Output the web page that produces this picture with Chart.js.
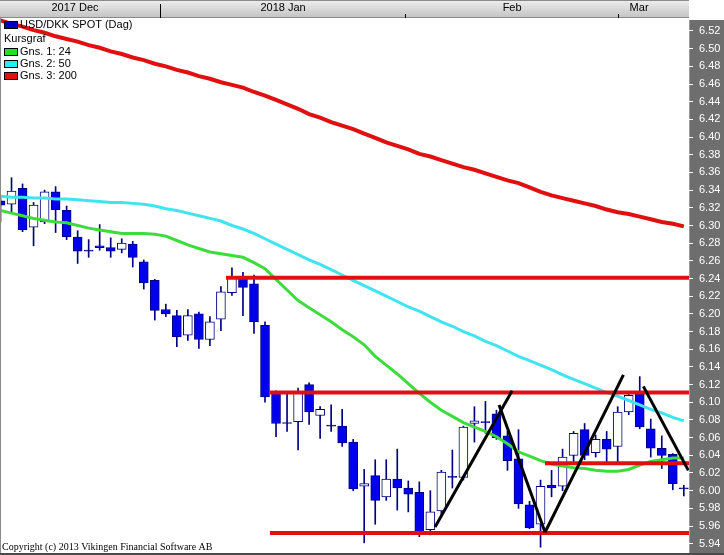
<!DOCTYPE html>
<html>
<head>
<meta charset="utf-8">
<script src="https://cdn.jsdelivr.net/npm/chart.js@4.4.1/dist/chart.umd.min.js"></script>
<style>
  html, body { margin: 0; padding: 0; background: #fff; }
  canvas { display: block; }
</style>
</head>
<body>
<canvas id="chart" width="724" height="555"></canvas>
<script>
// USD/DKK daily candles, Dec 2017 - Mar 2018 (one entry per trading day)
const opens  = [6.328, 6.324, 6.342, 6.298, 6.304, 6.338, 6.317, 6.287, 6.271, 6.277,
                6.275, 6.273, 6.279, 6.259, 6.238, 6.205, 6.198, 6.176, 6.200, 6.171,
                6.194, 6.224, 6.241, 6.234, 6.187, 6.110, 6.076, 6.078, 6.120, 6.085,
                6.073, 6.073, 6.055, 6.005, 6.017, 5.993, 6.013, 6.003, 5.998, 5.956,
                5.977, 6.015, 6.015, 6.076, 6.078, 6.087, 6.062, 6.036, 5.984, 5.962,
                6.006, 6.005, 6.040, 6.069, 6.043, 6.058, 6.050, 6.089, 6.110, 6.070,
                6.048, 6.041, 6.002];
const highs  = [6.332, 6.354, 6.347, 6.326, 6.340, 6.344, 6.322, 6.294, 6.284, 6.301,
                6.286, 6.285, 6.282, 6.261, 6.239, 6.211, 6.204, 6.205, 6.202, 6.197,
                6.231, 6.252, 6.247, 6.244, 6.191, 6.113, 6.111, 6.116, 6.122, 6.095,
                6.097, 6.092, 6.058, 6.024, 6.035, 6.035, 6.047, 6.011, 6.010, 6.000,
                6.023, 6.046, 6.073, 6.095, 6.101, 6.091, 6.067, 6.069, 5.988, 6.012,
                6.023, 6.047, 6.067, 6.076, 6.063, 6.067, 6.095, 6.112, 6.129, 6.081,
                6.062, 6.042, 6.006];
const lows   = [6.304, 6.314, 6.293, 6.277, 6.302, 6.292, 6.284, 6.257, 6.264, 6.272,
                6.264, 6.269, 6.253, 6.228, 6.193, 6.197, 6.163, 6.170, 6.161, 6.164,
                6.181, 6.221, 6.198, 6.178, 6.100, 6.061, 6.067, 6.046, 6.075, 6.059,
                6.067, 6.050, 6.000, 5.941, 5.962, 5.989, 5.978, 5.976, 5.948, 5.950,
                5.971, 6.003, 6.012, 6.055, 6.065, 6.058, 6.023, 5.980, 5.957, 5.936,
                5.993, 6.000, 6.033, 6.035, 6.038, 6.031, 6.031, 6.086, 6.070, 6.038,
                6.025, 6.001, 5.994];
const closes = [6.323, 6.339, 6.295, 6.323, 6.338, 6.318, 6.287, 6.271, 6.271, 6.275,
                6.271, 6.280, 6.264, 6.235, 6.204, 6.200, 6.174, 6.198, 6.171, 6.191,
                6.225, 6.241, 6.230, 6.191, 6.106, 6.076, 6.076, 6.112, 6.089, 6.092,
                6.073, 6.054, 6.002, 6.008, 5.989, 6.013, 6.003, 5.996, 5.952, 5.976,
                6.021, 6.015, 6.072, 6.079, 6.077, 6.060, 6.034, 5.985, 5.958, 6.005,
                6.003, 6.038, 6.065, 6.040, 6.058, 6.047, 6.089, 6.108, 6.072, 6.048,
                6.040, 6.008, 6.002];

// moving averages (Gns. 1: 24, Gns. 2: 50, Gns. 3: 200)
const ma24  = [6.317, 6.314, 6.311, 6.308, 6.306, 6.304, 6.303, 6.300, 6.297, 6.295,
               6.293, 6.291, 6.291, 6.291, 6.290, 6.288, 6.283, 6.278, 6.274, 6.270,
               6.268, 6.266, 6.264, 6.258, 6.251, 6.239, 6.227, 6.215, 6.207, 6.199,
               6.191, 6.182, 6.174, 6.165, 6.152, 6.142, 6.132, 6.121, 6.110, 6.100,
               6.091, 6.084, 6.077, 6.072, 6.067, 6.061, 6.053, 6.044, 6.039, 6.034,
               6.030, 6.028, 6.026, 6.025, 6.023, 6.022, 6.022, 6.024, 6.029, 6.033,
               6.035, 6.037, 6.037];
const ma50  = [6.333, 6.332, 6.332, 6.331, 6.331, 6.330, 6.330, 6.329, 6.328, 6.327,
               6.326, 6.326, 6.325, 6.324, 6.322, 6.319, 6.317, 6.314, 6.311, 6.308,
               6.305, 6.300, 6.296, 6.291, 6.285, 6.279, 6.273, 6.267, 6.261, 6.256,
               6.250, 6.244, 6.238, 6.232, 6.226, 6.220, 6.214, 6.208, 6.203, 6.197,
               6.191, 6.186, 6.180, 6.175, 6.169, 6.164, 6.158, 6.152, 6.147, 6.142,
               6.137, 6.131, 6.126, 6.121, 6.116, 6.111, 6.107, 6.102, 6.097, 6.092,
               6.088, 6.083, 6.079];
const ma200 = [6.532, 6.528, 6.525, 6.521, 6.518, 6.514, 6.511, 6.508, 6.504, 6.501,
               6.497, 6.494, 6.490, 6.487, 6.483, 6.480, 6.476, 6.473, 6.469, 6.466,
               6.462, 6.459, 6.456, 6.451, 6.447, 6.442, 6.437, 6.432, 6.426, 6.422,
               6.417, 6.413, 6.409, 6.404, 6.399, 6.394, 6.390, 6.386, 6.381, 6.378,
               6.374, 6.370, 6.366, 6.363, 6.359, 6.355, 6.351, 6.348, 6.343, 6.338,
               6.334, 6.331, 6.328, 6.325, 6.322, 6.318, 6.315, 6.313, 6.310, 6.307,
               6.304, 6.302, 6.299];

// drawn support / resistance levels (price, first day index)
const levels      = [6.241, 6.111, 6.031, 5.952];
const levelStarts = [20.46, 24.40, 49.40, 24.45];

// hand drawn trend lines (day index, price)
const trendX = [[39.43, 46.42], [45.24, 49.41], [49.41, 56.52], [58.33, 62.41]];
const trendY = [[5.959, 6.113], [6.097, 5.953], [5.953, 6.131], [6.118, 6.023]];

// month header
const monthLabels  = ['2017 Dec', '2018 Jan', 'Feb', 'Mar'];
const monthCenters = [6.76, 25.64, 46.42, 57.94];
const yearBreak    = 14.47;
const monthBreaks  = [36.71, 56.03];

const xMin = -0.045, xMax = 62.47;
const yMin = 5.9295, yMax = 6.5347;

const FONT = '"Liberation Sans", Arial, sans-serif';
const NAVY = '#000080';

const bodies = opens.map((o, i) => ({ x: i, y: [o, closes[i]] }));
const wicks = lows.map((l, i) => ({ x: i, y: [l, highs[i]] }));
const bodyColors = opens.map((o, i) => closes[i] > o ? '#ffffff' : (closes[i] < o ? '#0000ee' : NAVY));
const toPoints = arr => arr.map((v, i) => ({ x: i, y: v }));

const lineBase = { type: 'line', pointRadius: 0, tension: 0, fill: false };

const datasets = [];
trendX.forEach((xs, k) => {
    datasets.push({ ...lineBase, data: xs.map((x, j) => ({ x: x, y: trendY[k][j] })),
        borderColor: '#000000', borderWidth: 3, order: 0 });
});
levels.forEach((lv, k) => {
    datasets.push({ ...lineBase, data: [{ x: levelStarts[k], y: lv }, { x: xMax, y: lv }],
        borderColor: '#e01010', borderWidth: 4, order: 1 });
});
datasets.push({ ...lineBase, label: 'Gns. 1: 24', data: toPoints(ma24), borderColor: '#3ddc3d', backgroundColor: '#22e022', borderWidth: 3, order: 2 });
datasets.push({ ...lineBase, label: 'Gns. 2: 50', data: toPoints(ma50), borderColor: '#40e4ee', backgroundColor: '#22eef0', borderWidth: 3, order: 2 });
datasets.push({ ...lineBase, label: 'Gns. 3: 200', data: toPoints(ma200), borderColor: '#e01010', backgroundColor: '#e01010', borderWidth: 4, order: 2 });
datasets.push({
    type: 'bar', label: 'USD/DKK SPOT (Dag)', data: bodies,
    backgroundColor: bodyColors, borderColor: NAVY, borderWidth: 1, borderSkipped: false,
    barThickness: 9, grouped: false, minBarLength: 1, order: 3
});
datasets.push({
    type: 'bar', data: wicks, backgroundColor: NAVY, borderWidth: 0,
    barThickness: 1, grouped: false, order: 4
});

// header band, axis panel, legend and frame
const frame = {
    id: 'frame',
    beforeDraw(chart) {
        const { ctx, chartArea: a, width, height } = chart;
        const xs = chart.scales.x;
        ctx.save();
        const g = ctx.createLinearGradient(0, 0, 0, a.top);
        g.addColorStop(0, '#eeeeee');
        g.addColorStop(1, '#c2c2c2');
        ctx.fillStyle = g;
        ctx.fillRect(0, 0, a.right, a.top);
        ctx.fillStyle = '#8a8a8a';
        ctx.fillRect(0, 0, a.right, 1);
        ctx.fillRect(0, a.top - 1, a.right, 1);

        ctx.fillStyle = '#6e6e6e';
        ctx.fillRect(a.right, a.top + 2, width - a.right, height - a.top);
        ctx.fillStyle = '#9a9a9a';
        ctx.fillRect(a.right, a.top + 2, 1, height - a.top);

        ctx.fillStyle = '#000';
        ctx.font = '11px ' + FONT;
        ctx.textAlign = 'center';
        ctx.textBaseline = 'middle';
        monthLabels.forEach((t, k) => ctx.fillText(t, xs.getPixelForValue(monthCenters[k]), 8));
        const yb = Math.round(xs.getPixelForValue(yearBreak));
        ctx.fillRect(yb, 4, 1, a.top - 4);
        monthBreaks.forEach(b => ctx.fillRect(Math.round(xs.getPixelForValue(b)), a.top - 4, 1, 4));
        ctx.restore();
    },
    afterDraw(chart) {
        const { ctx, chartArea: a, width } = chart;
        const ds = chart.data.datasets;
        ctx.save();
        ctx.font = '11px ' + FONT;
        ctx.textAlign = 'left';
        ctx.textBaseline = 'middle';

        const rows = [
            { text: ds[ds.length - 2].label, color: '#0000c0', y: 25 },
            { text: 'Kursgraf', color: null, y: 39 },
            { text: ds[ds.length - 5].label, color: ds[ds.length - 5].backgroundColor, y: 52 },
            { text: ds[ds.length - 4].label, color: ds[ds.length - 4].backgroundColor, y: 64 },
            { text: ds[ds.length - 3].label, color: ds[ds.length - 3].backgroundColor, y: 76 }
        ];
        rows.forEach(r => {
            ctx.fillStyle = '#000';
            if (r.color) {
                ctx.fillRect(4, r.y - 4, 14, 8);
                ctx.fillStyle = r.color;
                ctx.fillRect(5, r.y - 3, 12, 6);
                ctx.fillStyle = '#000';
                ctx.fillText(r.text, 20, r.y);
            } else {
                ctx.fillText(r.text, 4, r.y);
            }
        });

        ctx.font = '10px "Liberation Serif", "Times New Roman", serif';
        ctx.textBaseline = 'alphabetic';
        ctx.fillText('Copyright (c) 2013 Vikingen Financial Software AB', 2, 550);

        ctx.fillStyle = '#8a8a8a';
        ctx.fillRect(0, a.top, 1, a.bottom - a.top);
        ctx.fillStyle = '#4a4a4a';
        ctx.fillRect(0, a.bottom, width, 2);
        ctx.restore();
    }
};

new Chart(document.getElementById('chart'), {
    type: 'bar',
    data: { datasets: datasets },
    options: {
        responsive: false,
        animation: false,
        events: [],
        layout: { padding: { top: 18, bottom: 2, left: 0, right: 0 } },
        plugins: { legend: { display: false }, tooltip: { enabled: false } },
        scales: {
            x: {
                type: 'linear', min: xMin, max: xMax, offset: false, display: false
            },
            y: {
                type: 'linear', position: 'right', min: yMin, max: yMax,
                afterFit(scale) {
                    scale.width = 35;
                    // labels may hang past the plot edges, as in the original
                    scale.paddingTop = 0;
                    scale.paddingBottom = 0;
                },
                border: { display: false },
                grid: { drawOnChartArea: false, tickLength: 4, tickColor: '#ffffff' },
                ticks: {
                    stepSize: 0.02, includeBounds: false, autoSkip: false,
                    color: '#ffffff', padding: 6,
                    font: { family: 'Liberation Sans', size: 11 },
                    callback: v => v.toFixed(2)
                }
            }
        }
    },
    plugins: [frame]
});
</script>
</body>
</html>
